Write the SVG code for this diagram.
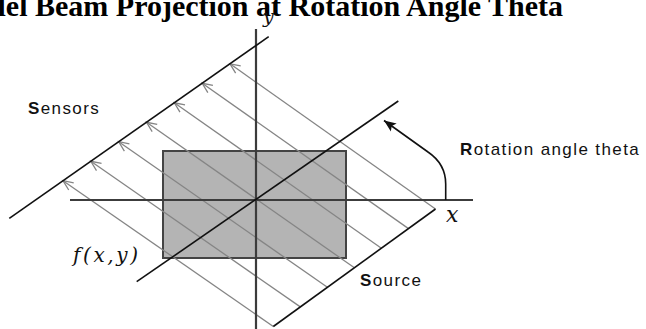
<svg xmlns="http://www.w3.org/2000/svg" width="646" height="329" viewBox="0 0 646 329">
<style>
.title{font-family:"Liberation Serif","Times New Roman",serif;font-weight:bold;font-size:30px;fill:#000}
.lbl{font-family:"Liberation Sans",Arial,sans-serif;font-size:17px;letter-spacing:1.4px;fill:#111}
.b{font-weight:bold}
.math{font-family:"DejaVu Serif","Liberation Serif",serif;font-style:italic;fill:#111}
.ray{stroke:#858585;stroke-width:1.3;fill:none}
.axis{stroke:#3c3c3c;stroke-width:2.2;fill:none}
.bar{stroke:#111;stroke-width:1.6;fill:none}
</style>
<defs>
<marker id="open" markerUnits="userSpaceOnUse" markerWidth="14" markerHeight="12" refX="11" refY="6" orient="auto" overflow="visible">
<path d="M1,1.6 L11,6 L1,10.4" fill="none" stroke="#858585" stroke-width="1.3"/>
</marker>
<marker id="solid" markerUnits="userSpaceOnUse" markerWidth="14" markerHeight="10" refX="12" refY="5" orient="auto" overflow="visible">
<path d="M0,0 L12,5 L0,10 L2.5,5 Z" fill="#111"/>
</marker>
</defs>
<rect width="646" height="329" fill="#fff"/>
<text class="title" x="563" y="16" text-anchor="end">Parallel Beam Projection at Rotation Angle Theta</text>
<g id="object">
<rect x="163" y="151" width="183" height="107" fill="#b4b4b4" stroke="#444" stroke-width="2"/>
</g>
<g id="rays">
<path class="ray" marker-end="url(#open)" d="M273.3,326.5 L63,180.7"/>
<path class="ray" marker-end="url(#open)" d="M300.3,306.9 L90.8,161.25"/>
<path class="ray" marker-end="url(#open)" d="M327.4,287.3 L118.7,141.72"/>
<path class="ray" marker-end="url(#open)" d="M354.4,267.8 L146.5,122.26"/>
<path class="ray" marker-end="url(#open)" d="M381.4,248.2 L174.3,102.8"/>
<path class="ray" marker-end="url(#open)" d="M408.5,228.6 L202.2,83.27"/>
<path class="ray" marker-end="url(#open)" d="M435.5,209 L230,63.81"/>
</g>
<g id="axes">
<line class="axis" x1="256" y1="29" x2="256" y2="329"/>
<line class="axis" x1="70" y1="200" x2="473" y2="200"/>
</g>
<g id="sensors">
<line class="bar" x1="9.3" y1="218.3" x2="268.7" y2="36.7"/>
</g>
<g id="source">
<line class="bar" x1="273.3" y1="326.5" x2="435.5" y2="209"/>
</g>
<g id="rotated-axis">
<line class="bar" x1="136.7" y1="281.7" x2="398.3" y2="101"/>
</g>
<g id="rotation-arrow">
<path d="M445.7,200 V184 Q445.7,164 428,152 L384,120.5" fill="none" stroke="#111" stroke-width="1.6" marker-end="url(#solid)"/>
</g>
<g id="labels">
<text class="lbl" x="28" y="113.5"><tspan class="b">S</tspan>ensors</text>
<text class="lbl" x="460" y="155"><tspan class="b">R</tspan>otation angle theta</text>
<text class="lbl" x="360" y="285.5"><tspan class="b">S</tspan>ource</text>
<text class="math" x="73" y="262" font-size="20" letter-spacing="2.6">f(x,y)</text>
<text class="math" x="446" y="221.5" font-size="22">x</text>
<text class="math" x="263" y="23" font-size="19">y</text>
</g>
</svg>
